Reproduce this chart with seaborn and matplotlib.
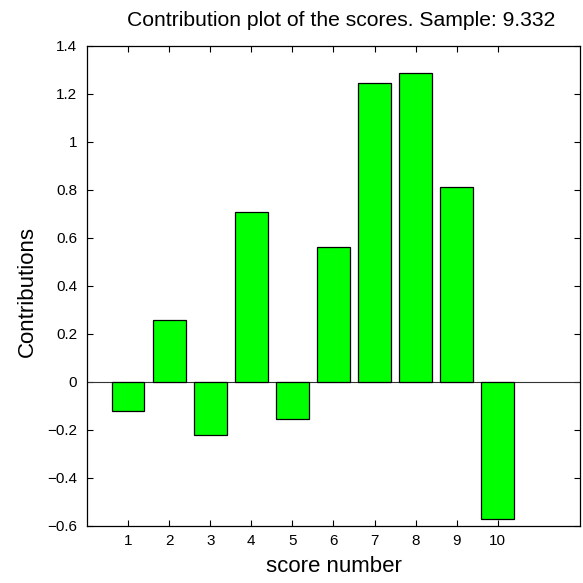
import matplotlib
matplotlib.use("Agg")
import matplotlib.pyplot as plt
import seaborn as sns
import pandas as pd

# Score contributions for the selected sample
score_numbers = [1, 2, 3, 4, 5, 6, 7, 8, 9, 10]
contributions = [-0.122, 0.258, -0.222, 0.708, -0.154, 0.561, 1.247, 1.286, 0.812, -0.572]
y_ticks = [-0.6, -0.4, -0.2, 0, 0.2, 0.4, 0.6, 0.8, 1, 1.2, 1.4]
y_tick_labels = ["\u22120.6", "\u22120.4", "\u22120.2", "0", "0.2", "0.4", "0.6", "0.8", "1", "1.2", "1.4"]

sns.set_theme(style="white")
plt.rcParams["font.family"] = ["Liberation Sans", "DejaVu Sans"]

df = pd.DataFrame({"score": score_numbers, "contribution": contributions})

fig = plt.figure(figsize=(5.83, 5.83), dpi=100)
ax = fig.add_axes([0.1492, 0.0986, 0.8456, 0.8225])

sns.barplot(data=df, x="score", y="contribution", native_scale=True, width=0.8,
            color="#00ff00", saturation=1, edgecolor="black", linewidth=0.9,
            ax=ax, zorder=3)

ax.axhline(0, color="#333333", linewidth=0.8, zorder=2)

ax.set_xlim(0, 12)
ax.set_ylim(-0.6, 1.4)
ax.set_xticks(score_numbers)
ax.set_xticklabels([str(s) for s in score_numbers])
ax.set_yticks(y_ticks)
ax.set_yticklabels(y_tick_labels)

ax.tick_params(axis="both", which="both", direction="in", length=4, width=0.8,
               colors="black", labelsize=11, top=True, right=True,
               bottom=True, left=True, pad=6)
ax.tick_params(axis="y", pad=7)
for side in ("left", "right", "top", "bottom"):
    ax.spines[side].set_visible(True)
    ax.spines[side].set_color("black")
    ax.spines[side].set_linewidth(0.9)

ax.set_xlabel("score number", fontsize=16, color="black", labelpad=6)
ax.set_ylabel("Contributions", fontsize=16, color="black")
ax.yaxis.set_label_coords(-0.10, 0.487)
ax.text(0.515, 1.042, "Contribution plot of the scores. Sample: 9.332",
        transform=ax.transAxes, ha="center", va="baseline", fontsize=15.2, color="black")

fig.savefig("out.png", dpi=100, facecolor="white")
